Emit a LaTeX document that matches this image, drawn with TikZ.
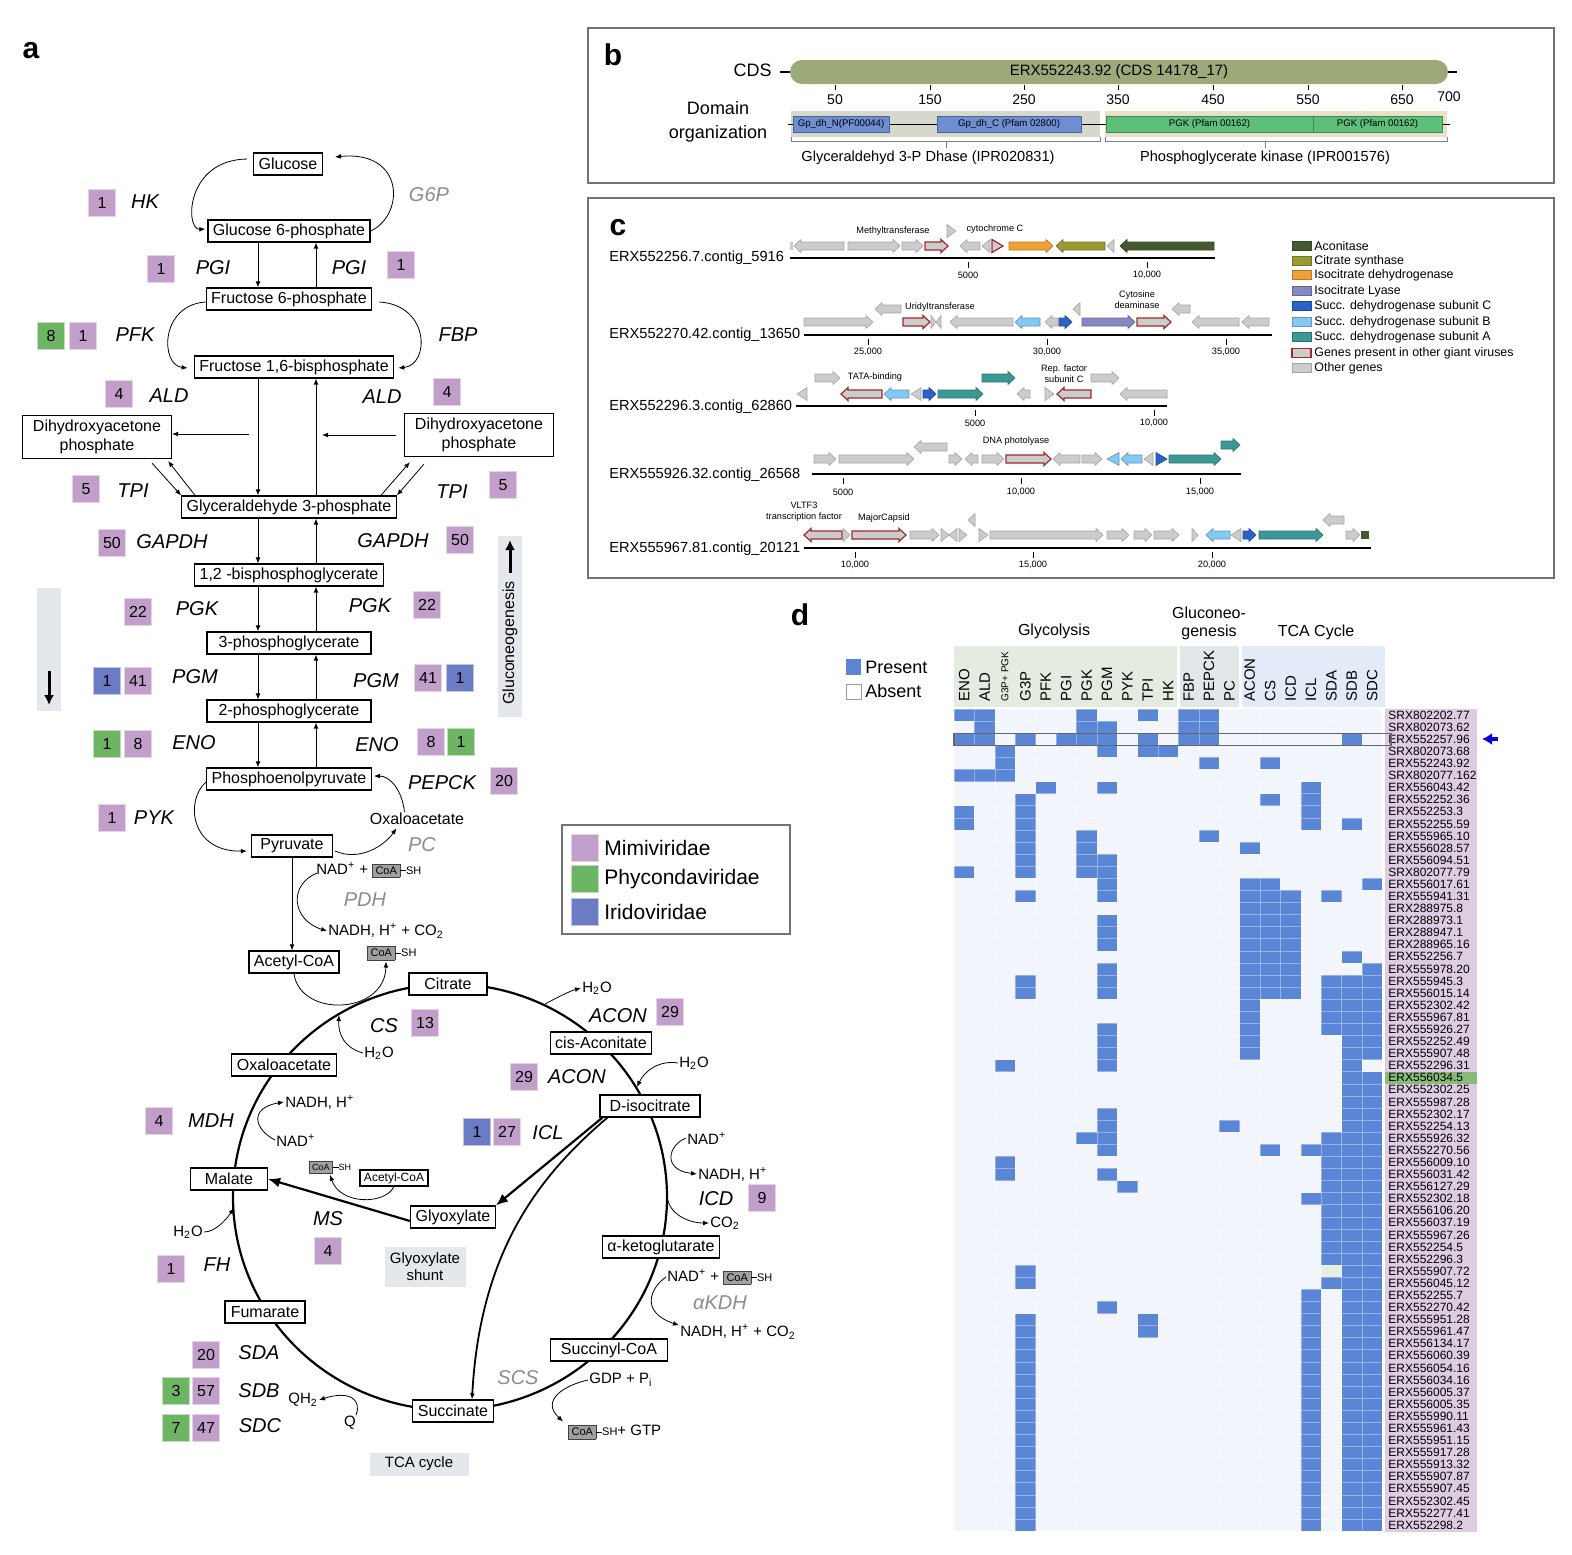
\documentclass[tikz,border=0pt]{standalone}
\usepackage{fontspec}
\setmainfont{Liberation Sans}
\usetikzlibrary{arrows.meta,calc}

\definecolor{mimi}{HTML}{C29FCB}
\definecolor{phyc}{HTML}{6DB565}
\definecolor{irid}{HTML}{6B7CC4}
\definecolor{hmblue}{HTML}{5B85D5}
\definecolor{hmbg}{HTML}{F2F5FB}
\definecolor{lblpink}{HTML}{DDCCE2}
\definecolor{labgreen}{HTML}{88BB78}
\definecolor{speccell}{HTML}{E6EFDF}
\definecolor{glyc}{HTML}{E4ECE2}
\definecolor{gluc}{HTML}{E2E8EA}
\definecolor{tcabg}{HTML}{E3EAF8}
\definecolor{bargray}{HTML}{E4E8EC}
\definecolor{coagray}{HTML}{A0A0A0}
\definecolor{enzgray}{HTML}{8C8C8C}
\definecolor{cdsgreen}{HTML}{9BAA78}
\definecolor{dombg}{HTML}{D6D8CE}
\definecolor{pgkbg}{HTML}{E9E0C8}
\definecolor{dblue}{HTML}{6F8ED2}
\definecolor{dgreen}{HTML}{5CBF7A}
\definecolor{ggray}{HTML}{CCCCCC}
\definecolor{gred}{HTML}{9E2A2A}
\definecolor{caco}{HTML}{45592F}
\definecolor{ccit}{HTML}{999A30}
\definecolor{cicd}{HTML}{F0A035}
\definecolor{cicl}{HTML}{8787C2}
\definecolor{csdc}{HTML}{2B62C8}
\definecolor{csdb}{HTML}{84C8F4}
\definecolor{csda}{HTML}{3C9896}

\newcommand{\fsz}[2]{\fontsize{#1}{#2}\selectfont}
\newcommand{\CoA}[1][5.5]{{\fontsize{#1}{#1}\selectfont\setlength{\fboxsep}{1.3pt}\setlength{\fboxrule}{0.3pt}\fcolorbox{gray!50!black}{coagray}{CoA}\rule[0.55ex]{3pt}{0.4pt}SH}}
% gene arrow: from, to (tip), y, style
\newcommand{\gene}[4]{%
  \pgfmathsetmacro{\hl}{ifthenelse(abs(#2-#1)<13,abs(#2-#1),7)}%
  \pgfmathsetmacro{\gb}{ifthenelse(#2>#1,#2-\hl,#2+\hl)}%
  \path[#4] (#1,#3-4) -- (\gb,#3-4) -- (\gb,#3-6.5) -- (#2,#3)
    -- (\gb,#3+6.5) -- (\gb,#3+4) -- (#1,#3+4) -- cycle;}

\begin{document}
\begin{tikzpicture}[x=0.5pt, y=-0.5pt,
  met/.style={draw, fill=white, line width=0.6pt, inner xsep=2.5pt, inner ysep=0pt, minimum height=11pt, font=\fsz{8}{9.5}},
  dhap/.style={align=center, minimum width=74.5pt, minimum height=21.5pt},
  enz/.style={inner sep=0pt, font=\fsz{10}{12}\itshape},
  genz/.style={enz, text=enzgray},
  badge/.style={fill=#1, draw=white!55!#1, line width=0.4pt, minimum size=13.5pt, inner sep=0pt, font=\fsz{8}{9}},
  chem/.style={inner sep=0.5pt, font=\fsz{7.5}{9}},
  arr/.style={-{Latex[length=3pt,width=2.4pt]}, line width=0.4pt},
  bigarr/.style={-{Latex[length=6pt,width=5pt]}, line width=1.1pt},
  panel/.style={inner sep=0pt, font=\fsz{15}{18}\bfseries},
  shadebox/.style={fill=bargray, inner sep=0pt, align=center, font=\fsz{7.5}{8.5}},
  frame/.style={draw=black!55, line width=0.8pt},
  cdsbar/.style={fill=cdsgreen, rounded corners=6pt, minimum width=329pt, minimum height=12pt, inner sep=0pt, font=\fsz{7.5}{9}},
  dom/.style={fill=#1, draw=#1!70!black, line width=0.3pt, minimum height=8pt, inner sep=0pt, font=\fsz{4.8}{5}},
  tk/.style={inner sep=0pt, font=\fsz{7}{8}},
  ctk/.style={inner sep=0pt, font=\fsz{4.6}{5}},
  glab/.style={inner sep=0pt, align=center, font=\fsz{4.6}{5.6}},
  contig/.style={anchor=west, inner sep=0pt, font=\fsz{7.3}{8}},
  leg/.style={anchor=west, inner sep=0pt, font=\fsz{6.2}{7}},
  gg/.style={fill=ggray, draw=black!35, line width=0.3pt},
  rd/.style={fill=ggray, draw=gred, line width=0.6pt},
  aco/.style={fill=caco, draw=caco!75!black, line width=0.3pt},
  cit/.style={fill=ccit, draw=ccit!75!black, line width=0.3pt},
  icd/.style={fill=cicd, draw=cicd!75!black, line width=0.3pt},
  icl/.style={fill=cicl, draw=cicl!75!black, line width=0.3pt},
  sdc/.style={fill=csdc, draw=csdc!75!black, line width=0.3pt},
  sdb/.style={fill=csdb, draw=csdb!75!black, line width=0.3pt},
  sda/.style={fill=csda, draw=csda!75!black, line width=0.3pt},
  collab/.style={rotate=90, anchor=west, inner sep=0pt, font=\fsz{7.5}{9}},
  rowlab/.style={anchor=west, inner sep=0pt, font=\fsz{6}{7}},
  grp/.style={inner sep=0pt, align=center, font=\fsz{8}{9}}]

\useasboundingbox (0,0) rectangle (1572,1554);

%--- panel a: glycolysis / gluconeogenesis ---
\node[panel] (la) at (31,51) {a};
\node[met] (glc) at (288,164) {Glucose};
\node[met] (g6p) at (289,231) {Glucose 6-phosphate};
\node[met] (f6p) at (289,299) {Fructose 6-phosphate};
\node[met] (fbp) at (294,367) {Fructose 1,6-bisphosphate};
\node[met,dhap] (dhapL) at (97,437) {Dihydroxyacetone\\phosphate};
\node[met,dhap] (dhapR) at (479,435) {Dihydroxyacetone\\phosphate};
\node[met] (gap) at (289,507) {Glyceraldehyde 3-phosphate};
\node[met] (bpg) at (289,575) {1,2 -bisphosphoglycerate};
\node[met, minimum width=82pt] (pg3) at (289,643) {3-phosphoglycerate};
\node[met, minimum width=82pt] (pg2) at (289,711) {2-phosphoglycerate};
\node[met, minimum width=82pt] (pep) at (289,779) {Phosphoenolpyruvate};
\node[met, minimum width=40.5pt] (pyr) at (292,846) {Pyruvate};
\node[chem, font=\fsz{8}{9.5}] (oaaP) at (417,819) {Oxaloacetate};

% straight arrows (down = glycolysis, up = gluconeogenesis)
\coordinate (dn) at (258,0);
\coordinate (up) at (316,0);
\foreach \a/\b in {g6p/f6p,fbp/gap,gap/bpg,bpg/pg3,pg3/pg2,pg2/pep}
  \draw[arr] (\a.south -| dn) -- (\b.north -| dn);
\foreach \a/\b in {f6p/g6p,gap/fbp,bpg/gap,pg3/bpg,pg2/pg3,pep/pg2}
  \draw[arr] (\a.north -| up) -- (\b.south -| up);

% ALD side arrows
\coordinate (aldL) at (249,434);
\coordinate (aldR) at (322,435);
\draw[arr] (aldL) -- (dhapL.east |- aldL);
\draw[arr] (dhapR.west |- aldR) ++(-8,0) -- (aldR);

% TPI
\draw[arr] ($(dhapL.south)+(55,4)$) -- (gap.north west);
\draw[arr] ($(gap.north west)+(14,0)$) -- ($(dhapL.south east)+(-4,2)$);
\draw[arr] ($(gap.north east)+(-16,0)$) -- ($(dhapR.south west)+(6,5)$);
\draw[arr] ($(dhapR.south west)+(20,7)$) -- (gap.north east);

% curved arrows
\draw[arr] ($(glc.west)+(-6,-5)$) .. controls (185,160) and (185,230) .. ($(g6p.west)+(-2,-2)$);
\draw[arr] (g6p.east) .. controls (405,215) and (405,150) .. ($(glc.east)+(12,-7)$);
\draw[arr] ($(f6p.west)+(0,3)$) .. controls (160,305) and (160,365) .. ($(fbp.west)+(-6,1)$);
\draw[arr] ($(f6p.east)+(7,3)$) .. controls (430,305) and (430,365) .. ($(fbp.east)+(4,1)$);
\draw[arr] ($(pep.west)+(0,3)$) .. controls (185,800) and (190,852) .. ($(pyr.west)+(-4,5)$);
\draw[arr] ($(pyr.east)+(2,5)$) .. controls (360,862) and (385,845) .. ($(oaaP.south west)+(28,2)$);
\draw[arr] ($(oaaP.north west)+(36,0)$) .. controls (402,790) and (390,776) .. ($(pep.east)+(2,-3)$);

% direction bars
\fill[bargray] (37,588) rectangle (61,711);
\draw[-{Latex[length=5pt,width=5pt]}, line width=1.5pt] (49,671) -- (49,705);
\node[fill=bargray, minimum width=12pt, minimum height=90.5pt, inner sep=0pt] (gngBar) at (510,626) {};
\draw[-{Latex[length=5pt,width=5pt]}, line width=1.5pt] (510,573) -- (510,540);
\node[rotate=90, inner sep=0pt, font=\fsz{8}{9}] (gngTxt) at (510,643) {Gluconeogenesis};

% enzymes
\foreach \x/\y/\t [count=\i] in {145/202/HK, 213/268/PGI, 349/268/PGI, 135/335/PFK, 458/335/FBP,
  169/396/ALD, 382/397/ALD, 133/491/TPI, 452/492/TPI, 172/542/GAPDH, 393/541/GAPDH,
  197/609/PGK, 370/606/PGK, 195/677/PGM, 376/681/PGM, 194/743/ENO, 377/745/ENO,
  442/783/PEPCK, 154/818/PYK, 211/1121/MDH, 217/1265/FH, 328/1219/MS, 384/1026/CS,
  618/1016/ACON, 577/1077/ACON, 548/1133/ICL, 716/1199/ICD, 259/1353/SDA, 259/1391/SDB, 260/1426/SDC}
  \node[enz] (e\i) at (\x,\y) {\t};
\foreach \x/\y/\t [count=\i] in {429/195/G6P, 422/845/PC, 365/900/PDH, 720/1303/αKDH, 518/1378/SCS}
  \node[genz] (ge\i) at (\x,\y) {\t};

% badges
\foreach \x/\y/\c/\t [count=\i] in {102/203/mimi/1, 161/269/mimi/1, 401/265/mimi/1, 51/336/phyc/8, 83/336/mimi/1,
  119/394/mimi/4, 447/392/mimi/4, 86/489/mimi/5, 503/485/mimi/5, 112/543/mimi/50, 460/540/mimi/50,
  138/612/mimi/22, 427/605/mimi/22, 107/681/irid/1, 138/681/mimi/41, 428/678/mimi/41, 460/678/irid/1,
  107/744/phyc/1, 138/744/mimi/8, 431/742/mimi/8, 461/742/phyc/1, 504/781/mimi/20, 112/818/mimi/1,
  425/1023/mimi/13, 670/1012/mimi/29, 524/1077/mimi/29, 477/1132/irid/1, 507/1132/mimi/27, 762/1198/mimi/9,
  159/1121/mimi/4, 171/1269/mimi/1, 328/1251/mimi/4, 206/1355/mimi/20, 176/1391/phyc/3, 206/1391/mimi/57,
  176/1428/phyc/7, 206/1428/mimi/47}
  \node[badge=\c] (b\i) at (\x,\y) {\t};

% pyruvate -> acetyl-CoA
\node[met] (acoa) at (294,962) {Acetyl-CoA};
\draw[arr] (pyr.south) -- (pyr.south |- acoa.north);
\node[chem, anchor=west] (nadA) at (315,870) {NAD\textsuperscript{+} + \CoA};
\node[chem, anchor=west] (nadhA) at (327,931) {NADH, H\textsuperscript{+} + CO\textsubscript{2}};
\draw[arr] ($(nadA.west)+(2,3)$) .. controls (288,885) and (292,920) .. (nadhA.west);
\node[chem, anchor=west] (coaA) at (366,953) {\CoA};

%--- TCA cycle ---
\coordinate (tca) at (450,1197);
\draw[line width=1.1pt] (tca) ellipse [x radius=217, y radius=213];
\draw[arr] (acoa.south) .. controls (300,1018) and (385,1015) .. ($(coaA.south west)+(20,0)$);
\node[met, minimum width=39pt] (cit) at (448,984) {Citrate};
\node[met] (cisa) at (601,1043) {cis-Aconitate};
\node[met, minimum width=50pt] (iso) at (650,1106) {D-isocitrate};
\node[met, minimum width=58pt] (akg) at (661,1247) {α-ketoglutarate};
\node[met, minimum width=58.5pt] (sca) at (609,1350) {Succinyl-CoA};
\node[met, minimum width=39pt] (suc) at (453,1411) {Succinate};
\node[met, minimum width=40pt] (fum) at (265,1312) {Fumarate};
\node[met, minimum width=38.5pt] (mal) at (229,1179) {Malate};
\node[met] (oaa) at (284,1065) {Oxaloacetate};
\node[met] (glx) at (453,1217) {Glyoxylate};

% glyoxylate shunt
\draw[bigarr] ($(iso.south west)+(3,0)$) -- (glx.north east);
\draw[arr, line width=0.9pt] ($(iso.south west)+(8,0)$) .. controls (540,1175) and (480,1250) .. ($(suc.north)+(19,0)$);
\draw[bigarr] ($(glx.west)+(0,4)$) -- (mal.east);
\node[met, font=\fsz{6}{7}, minimum height=8pt, inner xsep=2pt] (acoaS) at (394,1178) {Acetyl-CoA};
\node[chem] (coaS) at (330,1167) {\CoA[4.5]};
\draw[arr] (acoaS.south) .. controls (385,1205) and (340,1205) .. (coaS.south);
\node[shadebox, minimum width=40.5pt, minimum height=20pt] (gsh) at (425,1267) {Glyoxylate\\shunt};
\node[shadebox, minimum width=49.5pt, minimum height=11.5pt] (tcal) at (419,1464) {TCA cycle};

% side reactions
\node[chem] (h2oA) at (597,988) {H\textsubscript{2}O};
\draw[arr] (545,1004) .. controls (558,997) and (570,991) .. (h2oA.west);
\node[chem] (h2oB) at (379,1053) {H\textsubscript{2}O};
\draw[arr] (h2oB.west) .. controls (345,1048) and (338,1035) .. (339,1015);
\node[chem] (h2oC) at (694,1063) {H\textsubscript{2}O};
\draw[arr] (h2oC.west) .. controls (660,1060) and (645,1070) .. (637,1087);
\node[chem, anchor=west] (nadB) at (686,1138) {NAD\textsuperscript{+}};
\node[chem, anchor=west] (nadhB) at (697,1174) {NADH, H\textsuperscript{+}};
\draw[arr] (nadB.west) .. controls (668,1145) and (662,1170) .. (nadhB.west);
\node[chem, anchor=west] (co2B) at (709,1223) {CO\textsubscript{2}};
\draw[arr] (667,1195) .. controls (668,1215) and (690,1223) .. (co2B.west);
\node[chem, anchor=west] (nadC) at (666,1277) {NAD\textsuperscript{+} + \CoA};
\node[chem, anchor=west] (nadhC) at (679,1332) {NADH, H\textsuperscript{+} + CO\textsubscript{2}};
\draw[arr] (nadC.west) .. controls (650,1288) and (640,1312) .. ($(nadhC.north west)+(0,2)$);
\node[chem, anchor=west] (gdp) at (588,1380) {GDP + P\textsubscript{i}};
\node[chem, anchor=west] (gtp) at (567,1432) {\CoA + GTP};
\draw[arr] (gdp.west) .. controls (565,1385) and (540,1400) .. ($(gtp.north west)+(-4,-2)$);
\node[chem] (qh2) at (303,1400) {QH\textsubscript{2}};
\node[chem] (qq) at (350,1423) {Q};
\draw[arr] ($(qq.north)+(6,0)$) .. controls (362,1400) and (350,1390) .. (qh2.east);
\node[chem] (h2oD) at (188,1232) {H\textsubscript{2}O};
\draw[arr] (h2oD.east) .. controls (215,1232) and (226,1220) .. (234,1208);
\node[chem, anchor=west] (nadhD) at (284,1102) {NADH, H\textsuperscript{+}};
\node[chem, anchor=west] (nadD) at (275,1140) {NAD\textsuperscript{+}};
\draw[arr] (nadD.west) .. controls (255,1130) and (248,1108) .. (nadhD.west);

% family legend
\draw[black!55, line width=0.6pt] (562,825) rectangle (790,934);
\foreach \y/\c/\t in {848/mimi/Mimiviridae, 879/phyc/Phycondaviridae, 912/irid/Iridoviridae} {
  \node[badge=\c] (lg\c) at (585,\y) {};
  \node[anchor=west, inner sep=0pt, font=\fsz{10.5}{12}] (lt\c) at (604,\y) {\t};
}

%--- panel b: domain organization ---
\draw[frame] (588,28) rectangle (1554,183);
\node[panel] (lb) at (613,55) {b};
\node[anchor=east, inner sep=0pt, font=\fsz{9}{10}] (cdsL) at (772,70) {CDS};
\draw[line width=1pt] (780,72) -- (1457,72);
\node[cdsbar] (cds) at (1119,72) {ERX552243.92 (CDS 14178\_17)};
\foreach \x/\v in {835/50,930/150,1024/250,1118/350,1213/450,1308/550,1402/650} {
  \draw[line width=0.5pt] (\x,85) -- (\x,90);
  \node[tk] (t\v) at (\x,100) {\v};
}
\node[tk] (t700) at (1449,97) {700};
\node[align=center, inner sep=0pt, font=\fsz{9}{12}] (domL) at (718,122) {Domain\\organization};
\fill[dombg] (791,111) rectangle (1100,137);
\fill[pgkbg] (1105,111) rectangle (1447,137);
\draw[line width=0.5pt] (788,124) -- (1450,124);
\node[dom=dblue, minimum width=48pt] (gpN) at (841,124) {Gp\_dh\_N(PF00044)};
\node[dom=dblue, minimum width=72pt] (gpC) at (1009,124) {Gp\_dh\_C (Pfam 02800)};
\node[dom=dgreen, minimum width=103.5pt] (pgkA) at (1209.5,124) {PGK (Pfam 00162)};
\node[dom=dgreen, minimum width=64.5pt] (pgkB) at (1377.5,124) {PGK (Pfam 00162)};
\draw[black!50, line width=0.4pt] (791,137) -- (791,141) -- (1100,141) -- (1100,137);
\draw[black!50, line width=0.4pt] (946,141) -- (946,148);
\draw[black!50, line width=0.4pt] (1105,137) -- (1105,141) -- (1447,141) -- (1447,137);
\draw[black!50, line width=0.4pt] (1265,141) -- (1265,148);
\node[tk, font=\fsz{7.3}{8}] (ipr1) at (928,158) {Glyceraldehyd 3-P Dhase (IPR020831)};
\node[tk, font=\fsz{7.3}{8}] (ipr2) at (1265,158) {Phosphoglycerate kinase (IPR001576)};

%--- panel c: contigs ---
\draw[frame] (588,198) rectangle (1554,578);
\node[panel] (lc) at (618,228) {c};
% contig 1
\node[contig] (ctg1) at (609,258) {ERX552256.7.contig\_5916};
\draw[line width=1.1pt] (790,258) -- (1215,258);
\foreach \x/\v in {968/5000,1147/{10,000}} {\draw[line width=0.4pt] (\x,262) -- (\x,268); \node[ctk] (ka\x) at (\x,275) {\v};}
\fill[ggray] (790,242) rectangle (793,250);
\foreach \a/\b/\y/\s in {844/794/246/gg, 848/900/246/gg, 902/923/246/gg, 925/948/246/rd, 947/956/231/gg,
  980/960/246/gg, 990/982/246/gg, 992/1003/246/rd, 1009/1053/246/icd, 1105/1056/246/cit, 1114/1107/246/gg, 1214/1120/246/aco}
  \gene{\a}{\b}{\y}{\s};
\node[glab] (n1) at (893,231) {Methyltransferase};
\node[glab] (n2) at (995,229) {cytochrome C};
% contig 2
\node[contig] (ctg2) at (609,335) {ERX552270.42.contig\_13650};
\draw[line width=1.1pt] (804,335) -- (1272,335);
\foreach \x/\v in {868/{25,000},1047/{30,000},1226/{35,000}} {\draw[line width=0.4pt] (\x,339) -- (\x,345); \node[ctk] (kb\x) at (\x,352) {\v};}
\foreach \a/\b/\y/\s in {804/873/322/gg, 901/875/309/gg, 903/930/322/rd, 931/936/322/gg, 941/936/322/gg,
  1013/950/322/gg, 1040/1015/322/sdb, 1058/1045/322/gg, 1059/1072/322/sdc, 1080/1073/309/gg,
  1082/1135/322/icl, 1137/1171/322/rd, 1190/1172/309/gg, 1239/1192/322/gg, 1269/1242/322/gg}
  \gene{\a}{\b}{\y}{\s};
\node[glab] (n3) at (940,307) {Uridyltransferase};
\node[glab] (n4) at (1137,300) {Cytosine\\deaminase};
% contig 3
\node[contig] (ctg3) at (609,407) {ERX552296.3.contig\_62860};
\draw[line width=1.1pt] (796,406) -- (1167,406);
\foreach \x/\v in {975/5000,1154/{10,000}} {\draw[line width=0.4pt] (\x,410) -- (\x,416); \node[ctk] (kc\x) at (\x,423) {\v};}
\foreach \a/\b/\y/\s in {807/797/394/gg, 815/840/378/gg, 882/841/394/rd, 909/884/394/sdb, 921/911/394/gg,
  923/936/394/sdc, 938/983/394/sda, 982/1015/378/sda, 1030/1017/394/gg, 1045/1054/394/gg,
  1091/1057/394/rd, 1091/1119/378/gg, 1167/1120/394/gg}
  \gene{\a}{\b}{\y}{\s};
\node[glab] (n5) at (875,377) {TATA-binding};
\node[glab] (n6) at (1064,374) {Rep. factor\\subunit C};
% contig 4
\node[contig] (ctg4) at (609,475) {ERX555926.32.contig\_26568};
\draw[line width=1.1pt] (812,474) -- (1241,474);
\foreach \x/\v in {843/5000,1021/{10,000},1200/{15,000}} {\draw[line width=0.4pt] (\x,478) -- (\x,484); \node[ctk] (kd\x) at (\x,492) {\v};}
\foreach \a/\b/\y/\s in {814/836/459/gg, 839/914/459/gg, 947/914/447/gg, 949/962/459/gg, 978/965/459/gg,
  982/1004/459/gg, 1006/1051/459/rd, 1080/1053/459/gg, 1082/1102/459/gg, 1119/1107/459/sdb,
  1142/1121/459/sdb, 1153/1144/459/gg, 1156/1167/459/sdc, 1169/1221/459/sda, 1221/1240/445/sda}
  \gene{\a}{\b}{\y}{\s};
\node[glab] (n7) at (1016,441) {DNA photolyase};
% contig 5
\node[contig] (ctg5) at (609,549) {ERX555967.81.contig\_20121};
\draw[line width=1.1pt] (804,548) -- (1371,548);
\foreach \x/\v in {855/{10,000},1033/{15,000},1212/{20,000}} {\draw[line width=0.4pt] (\x,552) -- (\x,558); \node[ctk] (ke\x) at (\x,565) {\v};}
\foreach \a/\b/\y/\s in {842/804/535/rd, 843/850/535/gg, 852/906/535/rd, 910/939/535/gg, 941/949/535/gg,
  957/949/535/gg, 959/967/535/gg, 975/968/520/gg, 979/988/535/gg, 990/1103/535/gg, 1107/1129/535/gg,
  1134/1152/535/gg, 1154/1179/535/gg, 1192/1198/535/gg, 1230/1206/535/sdb, 1241/1231/535/gg,
  1243/1256/535/sdc, 1259/1323/535/sda, 1344/1323/520/gg, 1346/1360/535/gg}
  \gene{\a}{\b}{\y}{\s};
\fill[caco] (1361,531) rectangle (1369,539);
\node[glab] (n8) at (804,512) {VLTF3\\transcription factor};
\node[glab] (n9) at (884,518) {MajorCapsid};
% legend
\foreach \y/\s/\t in {246/aco/Aconitase, 261/cit/Citrate synthase, 275/icd/Isocitrate dehydrogenase,
  291/icl/Isocitrate Lyase, 306/sdc/Succ. dehydrogenase subunit C, 322/sdb/Succ. dehydrogenase subunit B,
  337/sda/Succ. dehydrogenase subunit A, 353/rd/Genes present in other giant viruses, 368/gg/Other genes} {
  \path[\s] (1292,\y-4.5) rectangle (1311,\y+4.5);
  \node[leg] (lg\y) at (1314,\y) {\t};
}

%--- panel d: heatmap ---
\node[panel] (ld) at (800,615) {d};
\fill[hmblue] (846,659) rectangle (861,675);
\node[anchor=west, inner sep=0pt, font=\fsz{9}{10}] (pres) at (865,667) {Present};
\draw[black!40, fill=white, line width=0.4pt] (846,684) rectangle (861,699);
\node[anchor=west, inner sep=0pt, font=\fsz{9}{10}] (absn) at (865,691) {Absent};
\fill[glyc] (954,646) rectangle (1177,707);
\fill[gluc] (1180,646) rectangle (1239,707);
\fill[tcabg] (1242,646) rectangle (1385,707);
\node[grp] (gGly) at (1054,631) {Glycolysis};
\node[grp] (gGng) at (1209,623) {Gluconeo-\\genesis};
\node[grp] (gTca) at (1316,632) {TCA Cycle};
\foreach \c/\n in {0/ENO,1/ALD,3/G3P,4/PFK,5/PGI,6/PGK,7/PGM,8/PYK,9/TPI,10/HK,11/FBP,12/PEPCK,13/PC,
  14/ACON,15/CS,16/ICD,17/ICL,18/SDA,19/SDB,20/SDC}
  \node[collab] (h\c) at ({954+20.4*(\c+0.5)},702) {\n};
\node[collab, font=\fsz{5}{6}] (h2) at ({954+20.4*2.5},702) {G3P+ PGK};

\fill[hmbg] (954,709) rectangle (1382.4,1531);
\fill[lblpink] (1385,709) rectangle (1477,1532);
\fill[labgreen] (1385,{709+12.09*30}) rectangle +(92,12.09);
\fill[speccell] ({954+20.4*18},{709+12.09*46}) rectangle +(20.4,12.09);
\foreach \r/\lab/\cl in {0/SRX802202.77/{0,1,6,9,11,12}, 1/SRX802073.62/{1,6,7,11,12},
  2/ERX552257.96/{0,1,3,5,6,7,9,11,12,19}, 3/SRX802073.68/{2,7,9,10}, 4/ERX552243.92/{2,12,15},
  5/SRX802077.162/{0,1,2}, 6/ERX556043.42/{4,7,17}, 7/ERX552252.36/{3,15,17}, 8/ERX552253.3/{0,3,17},
  9/ERX552255.59/{0,3,17,19}, 10/ERX555965.10/{3,6,12}, 11/ERX556028.57/{3,6,14}, 12/ERX556094.51/{3,6,7},
  13/SRX802077.79/{0,3,6,7}, 14/ERX556017.61/{7,14,15,20}, 15/ERX555941.31/{3,7,14,15,16,18},
  16/ERX288975.8/{14,15,16}, 17/ERX288973.1/{7,14,15,16}, 18/ERX288947.1/{7,14,15,16},
  19/ERX288965.16/{7,14,15,16}, 20/ERX552256.7/{14,15,16,19}, 21/ERX555978.20/{7,14,15,16,20},
  22/ERX555945.3/{3,7,14,15,16,18,19,20}, 23/ERX556015.14/{3,7,14,15,16,18,19,20},
  24/ERX552302.42/{14,18,19,20}, 25/ERX555967.81/{14,18,19,20}, 26/ERX555926.27/{7,14,18,19,20},
  27/ERX552252.49/{7,14,19,20}, 28/ERX555907.48/{7,14,19,20}, 29/ERX552296.31/{2,7,19},
  30/ERX556034.5/{19,20}, 31/ERX552302.25/{19,20}, 32/ERX555987.28/{19,20}, 33/ERX552302.17/{7,19,20},
  34/ERX552254.13/{7,13,19,20}, 35/ERX555926.32/{6,7,18,19,20}, 36/ERX552270.56/{7,15,17,18,19,20},
  37/ERX556009.10/{2,18,19,20}, 38/ERX556031.42/{2,7,18,19,20}, 39/ERX556127.29/{8,18,19,20},
  40/ERX552302.18/{17,18,19,20}, 41/ERX556106.20/{18,19,20}, 42/ERX556037.19/{18,19,20},
  43/ERX555967.26/{18,19,20}, 44/ERX552254.5/{18,19,20}, 45/ERX552296.3/{18,19,20},
  46/ERX555907.72/{3,19,20}, 47/ERX556045.12/{3,18,19,20}, 48/ERX552255.7/{17,19,20},
  49/ERX552270.42/{7,17,19,20}, 50/ERX555951.28/{3,9,17,19,20}, 51/ERX555961.47/{3,9,17,19,20},
  52/ERX556134.17/{3,17,19,20}, 53/ERX556060.39/{3,17,19,20}, 54/ERX556054.16/{3,17,19,20},
  55/ERX556034.16/{3,17,19,20}, 56/ERX556005.37/{3,17,19,20}, 57/ERX556005.35/{3,17,19,20},
  58/ERX555990.11/{3,17,19,20}, 59/ERX555961.43/{3,17,19,20}, 60/ERX555951.15/{3,17,19,20},
  61/ERX555917.28/{3,17,19,20}, 62/ERX555913.32/{3,17,19,20}, 63/ERX555907.87/{3,17,19,20},
  64/ERX555907.45/{3,17,19,20}, 65/ERX552302.45/{3,17,19,20}, 66/ERX552277.41/{3,17,19,20},
  67/ERX552298.2/{3,17,19,20}} {
  \foreach \c in \cl
    \fill[hmblue] ({954+20.4*\c},{709+12.09*\r}) rectangle +(20.4,12.09);
  \node[rowlab] (row\r) at (1388,{709+12.09*(\r+0.5)}) {\lab};
}
% faint cell grid
\foreach \c in {0,...,21}
  \draw[white, opacity=0.35, line width=0.3pt] ({954+20.4*\c},709) -- ++(0,822);
\foreach \r in {0,...,68}
  \draw[white, opacity=0.35, line width=0.3pt] (954,{709+12.09*\r}) -- ++(428.4,0);
% highlighted genome
\draw[black!60, line width=0.6pt] (954,{709+12.09*2}) rectangle (1391,{709+12.09*3});
\coordinate (hlTip) at (1482,739);
\draw[-{Latex[length=5pt,width=6pt]}, blue!85!black, line width=2pt] (1498,739) -- (hlTip);

\end{tikzpicture}
\end{document}
